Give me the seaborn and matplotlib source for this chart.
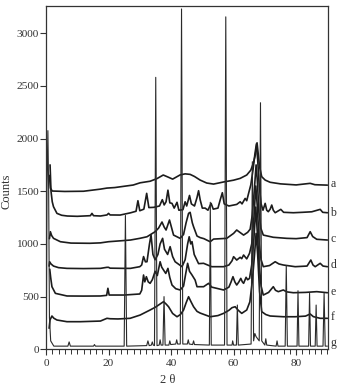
import numpy as np
import pandas as pd
import matplotlib
matplotlib.use("Agg")
import matplotlib.pyplot as plt
import seaborn as sns
from matplotlib.ticker import MultipleLocator

# ---------------- data ----------------
a_theta = [1.1, 1.4, 2.0, 6, 12, 17.4, 19.5, 22, 27.9, 30.1, 33.3, 35.5, 37.5, 39, 40.5, 42.9, 44.5, 46.1,
           47.5, 49.3, 51.4, 53.6, 56.8, 60, 62.1, 64.2, 65.5, 66.3, 67.0, 67.5, 67.9, 68.3, 69.0, 70.1,
           71.7, 75, 80, 84.5, 86, 90]
a_counts = [1650, 1530, 1502, 1498, 1500, 1520, 1530, 1535, 1559, 1580, 1595, 1620, 1654, 1635, 1615, 1655,
            1665, 1660, 1640, 1606, 1578, 1568, 1588, 1605, 1622, 1654, 1700, 1765, 1850, 1960, 1850, 1733,
            1638, 1606, 1585, 1570, 1560, 1575, 1562, 1558]

b_theta = [1.3, 1.6, 2.0, 2.4, 3.5, 5, 6.8, 10, 14.2, 14.7, 15.2, 17.4, 19.5, 20, 20.5, 23.7, 27, 28.8,
           29.4, 30, 31.3, 32.2, 32.9, 34.4, 36.3, 37.2, 37.8, 38.4, 39.0, 39.6, 40.3, 41.0, 41.9, 42.5,
           43.8, 44.5, 45.0, 45.9, 46.5, 47.5, 48.3, 48.8, 49.3, 50.0, 50.9, 51.8, 52.8, 53.5, 55.0, 55.7,
           56.4, 57.0, 58.5, 60, 61, 62.1, 62.7, 63.7, 64.2, 64.8, 65.5, 66.2, 66.8, 67.3, 67.7, 68.2,
           68.8, 69.4, 70.1, 70.6, 71.1, 71.7, 72.2, 72.7, 73.3, 75.1, 76, 79.1, 82, 85, 87.7, 88.5, 90]
b_counts = [1750, 1500, 1400, 1353, 1290, 1272, 1265, 1262, 1268, 1290, 1268, 1265, 1275, 1290, 1275, 1274,
            1295, 1310, 1410, 1315, 1330, 1480, 1345, 1347, 1360, 1420, 1370, 1400, 1510, 1390, 1385, 1340,
            1395, 1320, 1325, 1400, 1360, 1460, 1380, 1360, 1440, 1505, 1420, 1340, 1340, 1320, 1385, 1330,
            1340, 1416, 1486, 1380, 1360, 1369, 1375, 1400, 1380, 1432, 1410, 1480, 1560, 1700, 1850, 1950,
            1800, 1550, 1380, 1320, 1385, 1320, 1306, 1330, 1369, 1320, 1296, 1328, 1300, 1296, 1300, 1305,
            1328, 1300, 1296]

c_theta = [1.1, 1.4, 1.8, 2.4, 4.6, 8, 14, 17.4, 20, 24, 27, 30, 32.3, 34.9, 36.0, 37.1, 37.8, 38.4, 39.5,
           40.2, 40.8, 42.9, 44.0, 44.8, 45.6, 46.1, 46.8, 47.2, 48.3, 49.3, 50.5, 52.5, 53.6, 57.8, 60, 61,
           62, 63.2, 64.5, 65.3, 66.0, 66.6, 67.2, 67.6, 68.1, 68.7, 69.5, 72.7, 77, 80, 83.5, 84.5, 85.3,
           86.6, 90]
c_counts = [1050, 1116, 1080, 1053, 1021, 1008, 1006, 1010, 1021, 1030, 1037, 1053, 1068, 1116, 1150, 1208,
            1160, 1132, 1227, 1150, 1084, 1053, 1090, 1200, 1290, 1300, 1200, 1163, 1075, 1060, 1050, 1021,
            1046, 1053, 1100, 1132, 1110, 1084, 1110, 1140, 1280, 1500, 1750, 1600, 1300, 1150, 1084, 1063,
            1053, 1050, 1060, 1116, 1070, 1044, 1037]

d_theta = [1.0, 1.15, 1.6, 2.4, 4, 6.7, 12, 17.4, 19.5, 20, 20.5, 25, 27, 30, 30.6, 31.2, 31.8, 32.3, 33.1,
           33.6, 34.2, 34.9, 35.8, 36.5, 37.3, 37.9, 38.9, 39.7, 40.5, 41.3, 43.5, 44.5, 45.3, 45.8, 46.3,
           46.7, 47.4, 48.8, 50.4, 53, 56.8, 58.5, 59.5, 60, 61, 62.1, 62.6, 63.2, 64.2, 65.1, 65.8, 66.5,
           67.1, 67.6, 68.2, 68.8, 69.5, 71.5, 73.3, 74.5, 75.9, 79.7, 83.5, 84.7, 85.4, 86.1, 87.7, 88.6, 90]
d_counts = [790, 831, 810, 790, 775, 768, 766, 768, 778, 778, 770, 768, 768, 784, 800, 880, 830, 831, 1000,
            1085, 900, 850, 900, 1000, 1053, 950, 900, 974, 880, 831, 784, 850, 1000, 1068, 1000, 1022, 900,
            813, 816, 784, 784, 800, 840, 879, 847, 873, 860, 895, 858, 911, 1000, 1250, 1550, 1350, 1000,
            850, 784, 795, 831, 810, 800, 784, 790, 847, 800, 784, 816, 790, 784]

e_theta = [1.2, 1.5, 1.9, 3.0, 6.7, 12, 17.4, 19.4, 19.8, 20.2, 25, 30, 30.6, 31.2, 31.6, 32.1, 32.7, 33.3,
           34.0, 34.9, 35.6, 36.5, 37.0, 37.6, 38.3, 39.0, 39.6, 40.3, 41.5, 42.9, 44.0, 44.7, 45.3, 45.9,
           46.7, 47.7, 48.3, 50.4, 52, 53, 56.8, 58.5, 59.2, 59.8, 60.4, 61, 61.7, 62.3, 62.8, 63.2, 64,
           64.5, 65.1, 65.8, 66.5, 67.1, 67.6, 68.2, 68.8, 69.5, 71.2, 72.7, 73.4, 74.3, 75.9, 77, 79.1, 83,
           86.6, 90]
e_counts = [760, 680, 594, 531, 506, 505, 506, 512, 579, 515, 515, 525, 560, 705, 640, 689, 640, 626, 660,
            740, 700, 831, 780, 752, 720, 768, 680, 610, 575, 563, 600, 720, 816, 740, 705, 657, 594, 594,
            626, 590, 563, 590, 640, 689, 640, 610, 640, 673, 640, 626, 683, 660, 673, 800, 1050, 1350, 1100,
            800, 600, 515, 540, 594, 560, 547, 563, 545, 537, 540, 547, 537]

f_theta = [1.0, 1.3, 1.9, 2.5, 3.5, 6.7, 11, 17.4, 19.5, 20.5, 23, 26.9, 30.1, 33.3, 35.0, 36, 37.0, 37.6,
           38.4, 39.2, 40.5, 41.9, 43.0, 44, 44.8, 45.6, 46.4, 47.2, 48.3, 49.3, 52.5, 55, 56.8, 58.5, 59.5,
           60.5, 61.5, 62.6, 64.2, 65.2, 66.0, 66.7, 67.2, 67.7, 68.3, 69.0, 70.3, 71.7, 75.9, 79.7, 83.0,
           84.5, 85.5, 87.7, 90]
f_counts = [200, 280, 316, 295, 278, 262, 262, 268, 294, 290, 288, 294, 325, 373, 400, 420, 440, 452, 430,
            404, 340, 309, 330, 373, 440, 499, 450, 404, 360, 344, 309, 320, 341, 370, 395, 404, 370, 341,
            373, 450, 650, 900, 1100, 900, 550, 357, 330, 316, 309, 309, 315, 335, 310, 294, 294]

g_theta = [0.1, 0.3, 0.6, 0.85, 1.1, 1.5, 2.5, 7.0, 7.4, 7.8, 15.2, 15.5, 15.8, 25.0, 25.4, 25.8, 32.2,
           32.6, 33.0, 33.7, 34.0, 34.3, 34.7, 35.1, 35.5, 36.2, 36.5, 36.8, 37.4, 37.75, 38.1, 39.3, 39.6,
           39.9, 41.5, 41.8, 42.1, 42.95, 43.35, 43.75, 45.2, 45.5, 45.8, 46.9, 47.2, 47.5, 52.25, 52.55,
           52.85, 57.1, 57.5, 57.9, 59.5, 59.7, 60.0, 60.9, 61.2, 61.5, 65.6, 66.0, 66.4, 66.8, 67.2, 68.2,
           68.6, 69.0, 70.0, 70.3, 70.6, 73.6, 73.9, 74.2, 76.5, 76.85, 77.2, 80.3, 80.6, 80.9, 84.0, 84.3,
           84.6, 86.1, 86.4, 86.7, 88.6, 88.95, 89.3, 90]
g_counts = [0, 1500, 2075, 1500, 300, 80, 30, 30, 70, 30, 30, 45, 30, 30, 1270, 30, 35, 80, 35, 40, 70, 40,
            35, 2581, 35, 40, 90, 40, 40, 500, 40, 40, 80, 45, 50, 90, 50, 50, 3230, 50, 50, 90, 50, 45, 80,
            45, 40, 1395, 40, 40, 3155, 40, 40, 80, 40, 40, 420, 40, 50, 1780, 80, 150, 120, 80, 2340, 80,
            40, 100, 40, 30, 80, 30, 30, 795, 30, 30, 556, 30, 30, 531, 30, 30, 420, 30, 30, 531, 30, 30]

trace_labels = ["a", "b", "c", "d", "e", "f", "g"]
label_counts = [1565, 1293, 1044, 797, 544, 307, 57]
y_ticks = [0, 500, 1000, 1500, 2000, 2500, 3000]
x_ticks = [0, 20, 40, 60, 80]

# ---------------- figure ----------------
sns.set_theme(style="white")
plt.rcParams["font.family"] = ["Liberation Serif", "DejaVu Serif"]

fig = plt.figure(figsize=(3.38, 3.88), dpi=100)
ax = fig.add_axes([46 / 338, 1 - 349.3 / 388, (327.7 - 46) / 338, (349.3 - 6) / 388])

frames = []
for name, th, ct in zip(trace_labels[:-1],
                        [a_theta, b_theta, c_theta, d_theta, e_theta, f_theta],
                        [a_counts, b_counts, c_counts, d_counts, e_counts, f_counts]):
    frames.append(pd.DataFrame({"theta": th, "counts": ct, "trace": name}))
df = pd.concat(frames, ignore_index=True)
sns.lineplot(data=df, x="theta", y="counts", units="trace", estimator=None, sort=False,
             color="#1c1c1c", lw=1.2, ax=ax)
sns.lineplot(x=g_theta, y=g_counts, estimator=None, sort=False, color="#2a2a2a", lw=0.8, ax=ax)

ax.set_xlim(0, 90.1)
ax.set_ylim(0, 3258)
ax.set_xticks(x_ticks)
ax.set_yticks(y_ticks)
ax.xaxis.set_minor_locator(MultipleLocator(2))
ax.set_xlabel("")
ax.set_ylabel("")
for s in ax.spines.values():
    s.set_color("#333333")
    s.set_linewidth(0.9)
ax.tick_params(axis="both", which="major", direction="out", length=4, width=0.8,
               color="#333333", labelsize=8.2, labelcolor="#333333")
ax.tick_params(axis="y", which="major", pad=1.2, left=True)
ax.tick_params(axis="x", which="major", pad=3.2, bottom=True)
ax.tick_params(axis="x", which="minor", direction="out", length=3.5, width=0.7,
               color="#333333", bottom=True)

trans = ax.get_yaxis_transform()
for lab, yv in zip(trace_labels, label_counts):
    ax.text(1.01, yv, lab, transform=trans, ha="left", va="center",
            fontsize=8.5, color="#333333")

fig.text(7 / 338, 1 - 191 / 388, "Counts", rotation=90, ha="center", va="center",
         fontsize=9, color="#333333")
fig.text(168 / 338, 1 - 380 / 388, "2 θ", ha="center", va="center",
         fontsize=9, color="#333333")

fig.savefig("out.png", dpi=100)
